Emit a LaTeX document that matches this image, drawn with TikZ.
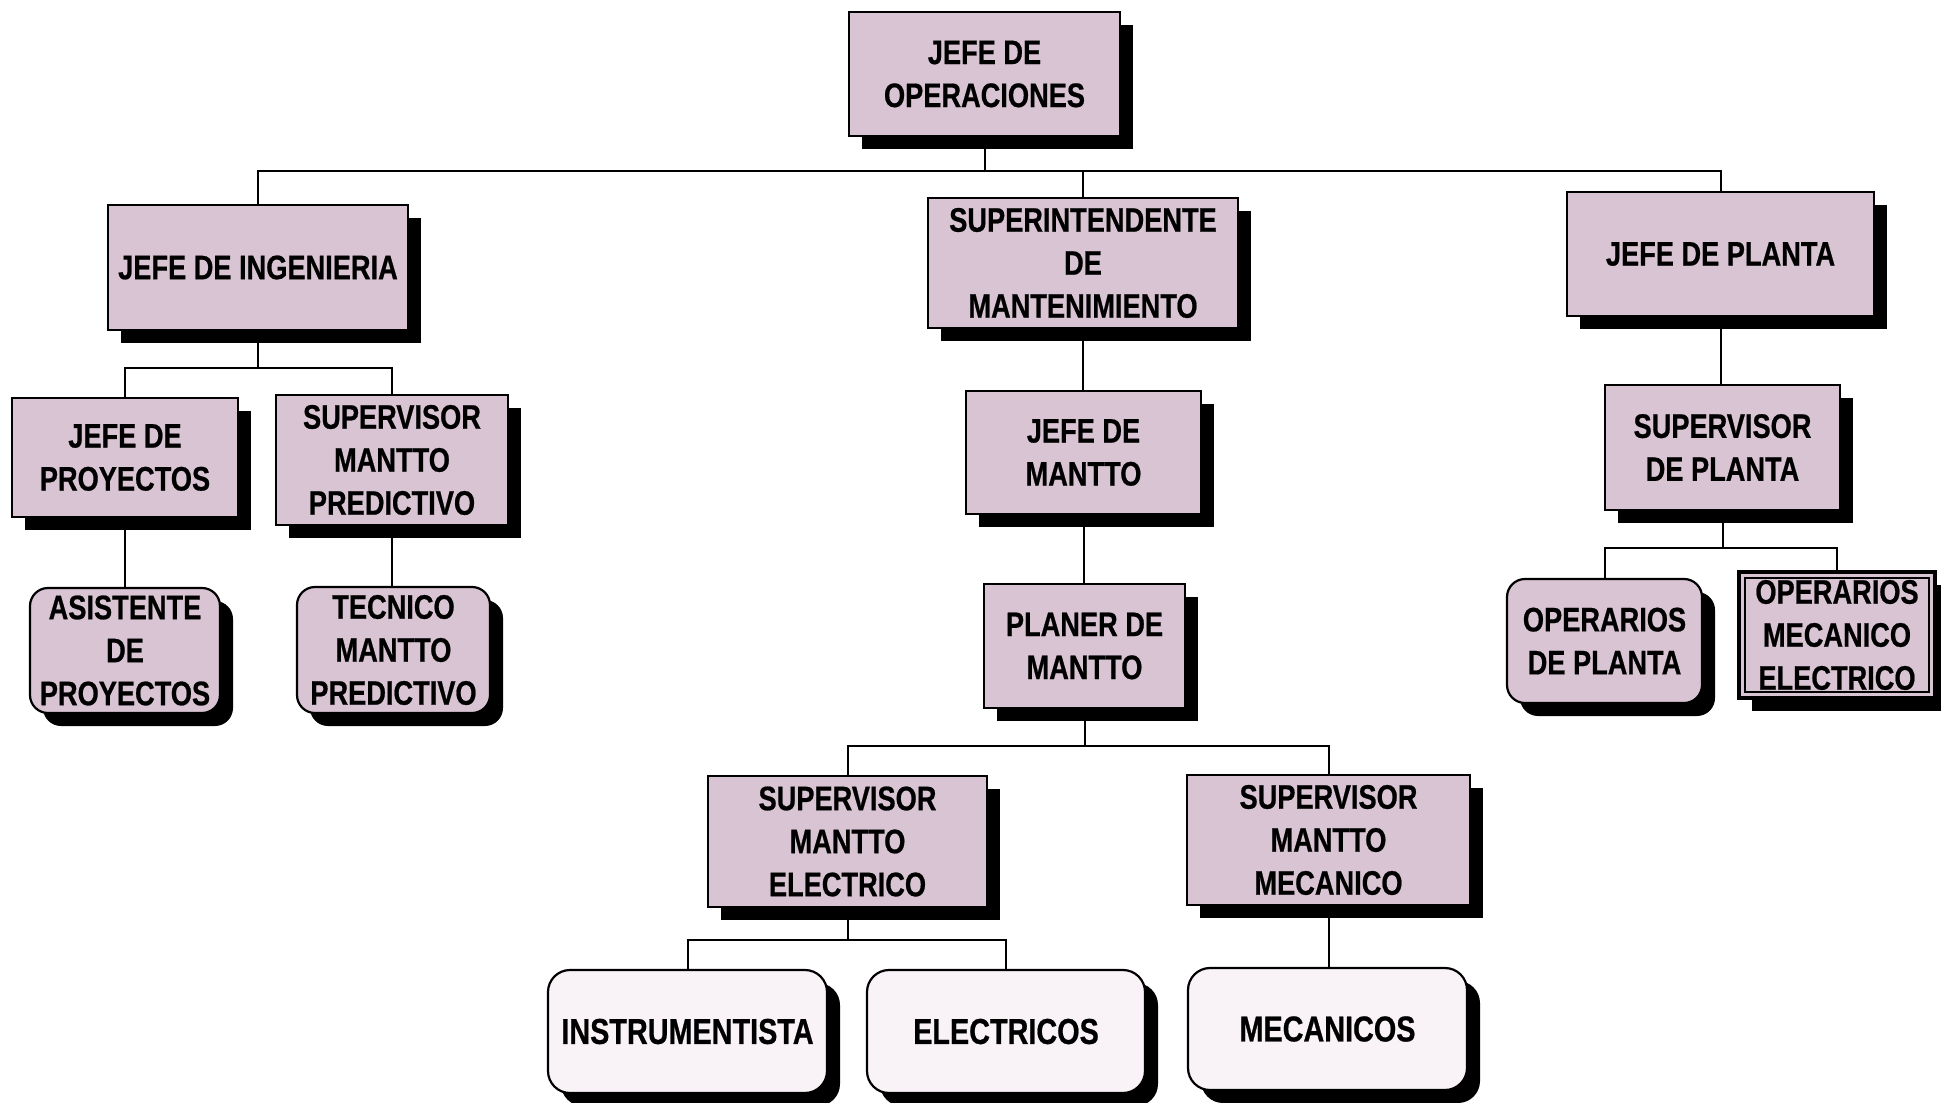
\documentclass[tikz,border=0pt]{standalone}
\usepackage{fontspec}
\setmainfont{Liberation Sans}[FakeStretch=0.8, BoldFeatures={FakeBold=0.6}]
\usetikzlibrary{shadows,shapes.misc}
\definecolor{boxfill}{RGB}{216,196,210}
\definecolor{lightfill}{RGB}{249,243,247}
\begin{document}
\begin{tikzpicture}[x=0.5pt,y=-0.5pt,
  every node/.style={font=\fontsize{17}{21.5}\selectfont\bfseries, align=center, inner sep=0pt},
  post/.style={draw=black, line width=1.1pt, fill=boxfill,
    general shadow={fill=black, shadow xshift=6.5pt, shadow yshift=-6.5pt}},
  roundpost/.style={post, rounded corners=9pt},
  basepost/.style={post, fill=lightfill, rounded corners=11pt,
    font=\fontsize{18}{21.5}\selectfont\bfseries},
  boxsize/.style 2 args={minimum width=#1*0.5pt, minimum height=#2*0.5pt},
  link/.style={line width=1pt}
]
\useasboundingbox[fill=white] (0,0) rectangle (1941,1102);

% top level
\node[post, boxsize={271}{124}] (op) at (984.5,74) {JEFE DE\\OPERACIONES};

% second level
\node[post, boxsize={300}{125}] (ing) at (258,267.5) {JEFE DE INGENIERIA};
\node[post, boxsize={310}{130}] (sup) at (1083,263) {SUPERINTENDENTE\\DE\\MANTENIMIENTO};
\node[post, boxsize={307}{124}] (pla) at (1720.5,254) {JEFE DE PLANTA};

% engineering branch
\node[post, boxsize={226}{119}] (pro) at (125,457.5) {JEFE DE\\PROYECTOS};
\node[post, boxsize={232}{130}] (smp) at (392,460) {SUPERVISOR\\MANTTO\\PREDICTIVO};
\node[roundpost, boxsize={190}{125}] (asi) at (125,650.5) {ASISTENTE\\DE\\PROYECTOS};
\node[roundpost, boxsize={193}{126}] (tec) at (393.5,650) {TECNICO\\MANTTO\\PREDICTIVO};

% maintenance branch
\node[post, boxsize={235}{123}] (jm) at (1083.5,452.5) {JEFE DE\\MANTTO};
\node[post, boxsize={201}{124}] (plm) at (1084.5,646) {PLANER DE\\MANTTO};
\node[post, boxsize={279}{131}] (sme) at (847.5,841.5) {SUPERVISOR\\MANTTO\\ELECTRICO};
\node[post, boxsize={283}{130}] (smm) at (1328.5,840) {SUPERVISOR\\MANTTO\\MECANICO};
\node[basepost, boxsize={279}{123}] (ins) at (687.5,1031.5) {INSTRUMENTISTA};
\node[basepost, boxsize={278}{123}] (ele) at (1006,1031.5) {ELECTRICOS};
\node[basepost, boxsize={279}{122}] (mec) at (1327.5,1029) {MECANICOS};

% plant branch
\node[post, boxsize={235}{125}] (spl) at (1722.5,447.5) {SUPERVISOR\\DE PLANTA};
\node[roundpost, boxsize={195}{124}] (opp) at (1604.5,641) {OPERARIOS\\DE PLANTA};
\node[post, line width=2.2pt, boxsize={196}{126}] (ome) at (1837,635) {OPERARIOS\\MECANICO\\ELECTRICO};
\node[draw, line width=0.6pt, chamfered rectangle, chamfered rectangle xsep=3pt,
  chamfered rectangle ysep=3pt, boxsize={184}{114}] (omein) at (ome.center) {};

% connectors
\draw[link] (op.south) -- ++(0,34) coordinate (b0);
\draw[link] (b0) -| (ing.north);
\draw[link] (b0) -| (sup.north);
\draw[link] (b0) -| (pla.north);

\draw[link] (ing.south) -- ++(0,37) coordinate (b1);
\draw[link] (b1) -| (pro.north);
\draw[link] (b1) -| (smp.north);
\draw[link] (pro.south) -- (asi.north);
\draw[link] (smp.south) -- (smp.south |- tec.north);

\draw[link] (sup.south) -- (sup.south |- jm.north);
\draw[link] (jm.south) -- (jm.south |- plm.north);
\draw[link] (plm.south) -- ++(0,37) coordinate (b2);
\draw[link] (b2) -| (sme.north);
\draw[link] (b2) -| (smm.north);
\draw[link] (sme.south) -- ++(0,32) coordinate (b3);
\draw[link] (b3) -| (ins.north);
\draw[link] (b3) -| (ele.north);
\draw[link] (smm.south) -- (smm.south |- mec.north);

\draw[link] (pla.south) -- (pla.south |- spl.north);
\draw[link] (spl.south) -- ++(0,37) coordinate (b4);
\draw[link] (b4) -| (opp.north);
\draw[link] (b4) -| (ome.north);
\end{tikzpicture}
\end{document}
